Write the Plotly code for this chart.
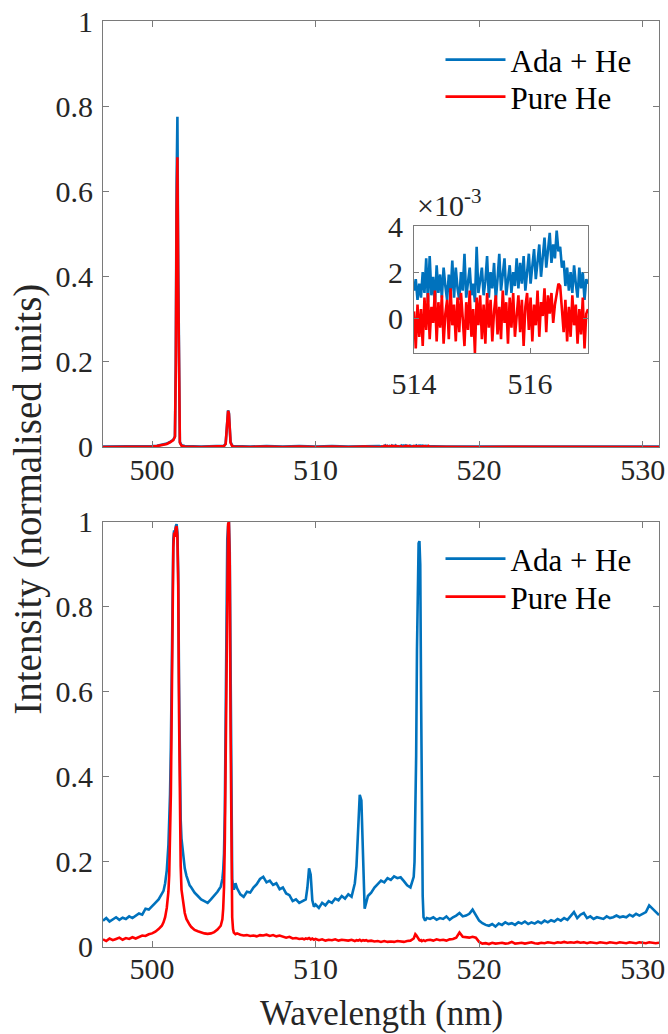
import plotly.graph_objects as go

# ---------------- data ----------------
# Top panel (outside the inset window)
top_wl_left = [497.0, 498.0, 499.0, 500.0, 500.3, 500.6, 500.9, 501.1, 501.3, 501.4,
               501.45, 501.5, 501.55, 501.6, 501.65, 501.7, 501.8, 502.0, 503.0, 504.0,
               504.4, 504.5, 504.55, 504.6, 504.65, 504.7, 504.75, 504.8, 504.9, 505.0,
               506.0, 507.0, 508.0, 509.0, 510.0, 511.0, 512.0, 513.0, 513.9]
top_ada_left = [0.001, 0.001, 0.001, 0.002, 0.003, 0.005, 0.008, 0.012, 0.017, 0.025,
                0.2, 0.62, 0.775, 0.42, 0.09, 0.012, 0.004, 0.002, 0.001, 0.002,
                0.003, 0.008, 0.03, 0.07, 0.086, 0.08, 0.045, 0.012, 0.003, 0.002,
                0.001, 0.002, 0.001, 0.002, 0.001, 0.002, 0.001, 0.002, 0.002]
top_he_left = [0.0, 0.0, 0.0, 0.001, 0.002, 0.004, 0.007, 0.011, 0.016, 0.024,
               0.18, 0.55, 0.68, 0.38, 0.08, 0.01, 0.003, 0.001, 0.0, 0.001,
               0.002, 0.007, 0.028, 0.068, 0.085, 0.078, 0.042, 0.01, 0.002, 0.001,
               0.0, 0.001, 0.0, 0.001, 0.0, 0.001, 0.0, 0.001, 0.0]
top_wl_right = [517.2, 518.0, 519.0, 520.0, 522.0, 524.0, 526.0, 528.0, 530.0, 531.0]
top_ada_right = [0.0015, 0.0012, 0.0016, 0.001, 0.001, 0.0012, 0.001, 0.0011, 0.001, 0.001]
top_he_right = [0.0003, 0.0002, 0.0004, 0.0, 0.0001, 0.0, 0.0002, 0.0, 0.0001, 0.0]

# Inset window 514-517 nm (values in units of 1e-3)
inset_wl = [514.00, 514.03, 514.06, 514.09, 514.12, 514.15, 514.18, 514.21, 514.24, 514.27,
            514.30, 514.33, 514.36, 514.39, 514.42, 514.45, 514.48, 514.51, 514.54, 514.57,
            514.60, 514.63, 514.66, 514.69, 514.72, 514.75, 514.78, 514.81, 514.84, 514.87,
            514.90, 514.93, 514.96, 514.99, 515.02, 515.05, 515.08, 515.11, 515.14, 515.17,
            515.20, 515.23, 515.26, 515.29, 515.32, 515.35, 515.38, 515.41, 515.44, 515.47,
            515.50, 515.53, 515.56, 515.59, 515.62, 515.65, 515.68, 515.71, 515.74, 515.77,
            515.80, 515.83, 515.86, 515.89, 515.92, 515.95, 515.98, 516.01, 516.04, 516.07,
            516.10, 516.13, 516.16, 516.19, 516.22, 516.25, 516.28, 516.31, 516.34, 516.37,
            516.40, 516.43, 516.46, 516.49, 516.52, 516.55, 516.58, 516.61, 516.64, 516.67,
            516.70, 516.73, 516.76, 516.79, 516.82, 516.85, 516.88, 516.91, 516.94, 516.97,
            517.00]
inset_ada_milli = [1.2, 1.7, 0.8, 1.5, 0.9, 2.0, 1.1, 2.6, 0.7, 2.7,
                   1.0, 1.8, 0.6, 2.3, 1.1, 1.9, 0.9, 2.2, 1.4, 0.8,
                   1.9, 1.0, 2.5, 0.9, 2.2, 1.3, 0.8, 2.0, 1.2, 2.8,
                   0.9, 1.6, 2.2, 1.0, 1.5, 0.7, 3.1, 1.1, 1.8, 2.2,
                   1.0, 1.6, 2.7, 0.9, 2.0, 1.3, 2.4, 0.8, 1.7, 2.8,
                   1.2, 1.9, 2.6, 1.0, 1.6, 2.3, 1.1, 2.0, 1.4, 2.6,
                   1.3, 2.4, 1.5, 2.7, 1.2, 2.0, 2.8, 1.5, 2.2, 3.0,
                   1.7, 2.4, 3.2, 1.8, 2.6, 3.5, 2.2, 2.9, 3.7, 2.4,
                   3.2, 2.6, 3.8, 2.9, 3.1, 2.2, 2.5, 1.4, 2.2, 1.2,
                   2.0, 1.1, 2.3, 1.5, 0.9, 2.2, 1.3, 2.0, 0.8, 1.7,
                   1.5]
inset_he_milli = [0.3, -1.3, 0.6, -0.8, 0.4, -1.2, 0.9, -0.5, 1.1, -0.9,
                  0.5, -0.2, 1.2, -1.0, 0.7, -0.4, 1.0, -1.1, 0.2, 0.8,
                  -0.9, 1.3, -0.3, 0.6, -1.0, 0.9, -0.6, 1.1, 0.0, -1.2,
                  0.7, -0.5, 1.2, -0.8, 0.4, -1.5, 0.9, -0.3, 1.0, -0.9,
                  0.6, -1.1, 1.1, -0.4, 0.8, -1.0, 0.3, 1.0, -0.7, 0.5,
                  -0.9, 1.2, -0.2, 0.7, -1.1, 0.9, -0.4, 1.1, -0.8, 0.3,
                  1.0, -0.6, 0.8, -1.2, 0.5, 1.1, -0.5, 0.9, -1.0, 0.6,
                  -0.3, 1.2, -0.8, 0.7, 0.1, 1.3, -0.6, 1.0, 0.2, 1.1,
                  -0.2, 0.6, 1.0, 1.5, 1.4, 0.4, -0.6, 0.8, -1.0, 0.5,
                  -0.8, 1.0, -0.3, 0.6, -1.1, 0.4, -0.7, 0.9, -1.3, 0.2,
                  0.4]

# Bottom panel
bottom_wl = [497.0, 497.2, 497.4, 497.6, 497.8, 498.0, 498.2, 498.4, 498.6, 498.8,
             499.0, 499.2, 499.4, 499.6, 499.8, 500.0, 500.2, 500.4, 500.6,
             500.7, 500.8, 500.9, 501.0, 501.05, 501.1, 501.15, 501.2, 501.25, 501.3,
             501.35, 501.4, 501.45, 501.5, 501.55, 501.6, 501.65, 501.7, 501.75, 501.8,
             501.9, 502.0, 502.1, 502.2, 502.3, 502.4, 502.5, 502.6,
             502.8, 503.0, 503.2, 503.4, 503.6, 503.8, 504.0, 504.2,
             504.3, 504.35, 504.4, 504.45, 504.5, 504.55, 504.6, 504.65, 504.7, 504.75,
             504.8, 504.85, 504.9, 504.95, 505.0, 505.1, 505.2,
             505.4, 505.6, 505.8, 506.0, 506.2, 506.4, 506.6, 506.8, 507.0, 507.2,
             507.4, 507.6, 507.8, 508.0, 508.2, 508.4, 508.6, 508.8, 509.0, 509.2,
             509.3, 509.4, 509.5, 509.6, 509.7, 509.8, 509.9, 510.0,
             510.2, 510.4, 510.6, 510.8, 511.0, 511.2, 511.4, 511.6, 511.8, 512.0, 512.2, 512.4,
             512.5, 512.6, 512.7, 512.8, 512.9, 513.0, 513.1, 513.2,
             513.4, 513.6, 513.8, 514.0, 514.2, 514.4, 514.6, 514.8, 515.0, 515.2,
             515.4, 515.6, 515.8, 516.0,
             516.05, 516.1, 516.15, 516.2, 516.25, 516.3, 516.35, 516.4, 516.45, 516.5,
             516.55, 516.6, 516.7, 516.8,
             517.0, 517.2, 517.4, 517.6, 517.8, 518.0, 518.2, 518.4, 518.6, 518.8,
             519.0, 519.2, 519.4, 519.6, 519.8, 520.0, 520.2, 520.4, 520.6, 520.8,
             521.0, 521.2, 521.4, 521.6, 521.8, 522.0, 522.2, 522.4, 522.6, 522.8,
             523.0, 523.2, 523.4, 523.6, 523.8, 524.0, 524.2, 524.4, 524.6, 524.8,
             525.0, 525.2, 525.4, 525.6, 525.8, 526.0, 526.2, 526.4, 526.6, 526.8,
             527.0, 527.2, 527.4, 527.6, 527.8, 528.0, 528.2, 528.4, 528.6, 528.8,
             529.0, 529.2, 529.4, 529.6, 529.8, 530.0, 530.2, 530.4, 530.6, 530.8,
             531.0]
bottom_ada = [0.062, 0.068, 0.060, 0.066, 0.070, 0.064, 0.069, 0.066, 0.072, 0.068,
              0.074, 0.079, 0.076, 0.090, 0.088, 0.097, 0.104, 0.112, 0.125,
              0.132, 0.150, 0.180, 0.240, 0.290, 0.360, 0.470, 0.640, 0.850, 0.960,
              0.980, 0.975, 0.990, 0.995, 0.975, 0.880, 0.620, 0.400, 0.300, 0.255,
              0.212, 0.185, 0.168, 0.155, 0.145, 0.140, 0.132, 0.128,
              0.120, 0.112, 0.108, 0.104, 0.112, 0.120, 0.130, 0.142,
              0.160, 0.180, 0.220, 0.320, 0.520, 0.800, 0.960, 0.990, 1.000, 0.930,
              0.600, 0.280, 0.160, 0.140, 0.135, 0.150, 0.138,
              0.124, 0.118, 0.130, 0.128, 0.140, 0.148, 0.160, 0.165, 0.152, 0.156,
              0.146, 0.150, 0.136, 0.140, 0.126, 0.122, 0.108, 0.112, 0.104, 0.108,
              0.110, 0.112, 0.140, 0.185, 0.170, 0.110, 0.095, 0.100,
              0.092, 0.104, 0.098, 0.108, 0.104, 0.114, 0.110, 0.120, 0.114, 0.124, 0.118, 0.150,
              0.190, 0.280, 0.358, 0.345, 0.200, 0.090, 0.105, 0.120,
              0.128, 0.140, 0.148, 0.156, 0.152, 0.162, 0.158, 0.166, 0.162, 0.164,
              0.155, 0.145, 0.140, 0.165,
              0.200, 0.300, 0.450, 0.700, 0.880, 0.950, 0.955, 0.900, 0.600, 0.300,
              0.120, 0.070, 0.062, 0.068,
              0.066, 0.070, 0.064, 0.068, 0.066, 0.072, 0.064, 0.070, 0.074, 0.080,
              0.072, 0.074, 0.078, 0.088, 0.075, 0.062, 0.056, 0.052, 0.050, 0.054,
              0.048, 0.055, 0.052, 0.058, 0.054, 0.056, 0.052, 0.058, 0.055, 0.060,
              0.054, 0.058, 0.055, 0.060, 0.056, 0.062, 0.058, 0.063, 0.060, 0.066,
              0.062, 0.068, 0.064, 0.074, 0.082, 0.068, 0.076, 0.080, 0.068, 0.072,
              0.066, 0.070, 0.068, 0.066, 0.072, 0.068, 0.070, 0.074, 0.070, 0.072,
              0.070, 0.076, 0.072, 0.078, 0.074, 0.078, 0.082, 0.098, 0.090, 0.082,
              0.075]
bottom_he = [0.018, 0.014, 0.020, 0.016, 0.019, 0.022, 0.017, 0.021, 0.019, 0.023,
             0.020, 0.024, 0.027, 0.026, 0.030, 0.032, 0.036, 0.042, 0.050,
             0.058, 0.070, 0.092, 0.130, 0.170, 0.240, 0.360, 0.550, 0.800, 0.940,
             0.975, 0.965, 0.985, 0.990, 0.965, 0.850, 0.550, 0.300, 0.190, 0.135,
             0.100, 0.080, 0.066, 0.058, 0.052, 0.047, 0.044, 0.040,
             0.037, 0.034, 0.032, 0.031, 0.032, 0.035, 0.041, 0.050,
             0.065, 0.090, 0.140, 0.250, 0.450, 0.750, 0.950, 0.995, 1.000, 0.900,
             0.520, 0.180, 0.070, 0.042, 0.034, 0.030, 0.032,
             0.029, 0.027, 0.028, 0.026, 0.027, 0.025, 0.028, 0.027, 0.029, 0.026,
             0.028, 0.025, 0.027, 0.024, 0.022, 0.024, 0.020, 0.021, 0.019, 0.020,
             0.018, 0.020, 0.019, 0.021, 0.018, 0.020, 0.017, 0.019,
             0.016, 0.018, 0.015, 0.017, 0.016, 0.018, 0.015, 0.017, 0.016, 0.015, 0.017, 0.014,
             0.016, 0.015, 0.017, 0.014, 0.016, 0.015, 0.016, 0.014,
             0.015, 0.013, 0.014, 0.012, 0.014, 0.012, 0.013, 0.012, 0.014, 0.013,
             0.012, 0.014, 0.015, 0.020,
             0.026, 0.030, 0.028, 0.024, 0.020, 0.018, 0.016, 0.015, 0.016, 0.014,
             0.015, 0.016, 0.014, 0.016,
             0.017, 0.015, 0.018, 0.016, 0.017, 0.015, 0.018, 0.019, 0.022, 0.034,
             0.024, 0.023, 0.022, 0.024, 0.022, 0.012, 0.008, 0.009, 0.007, 0.010,
             0.008, 0.009, 0.010, 0.008, 0.009, 0.012, 0.008, 0.009, 0.010, 0.008,
             0.009, 0.011, 0.009, 0.008, 0.010, 0.009, 0.011, 0.010, 0.009, 0.011,
             0.010, 0.012, 0.010, 0.011, 0.010, 0.012, 0.010, 0.011, 0.009, 0.011,
             0.010, 0.009, 0.011, 0.010, 0.009, 0.011, 0.010, 0.009, 0.011, 0.010,
             0.009, 0.011, 0.010, 0.009, 0.011, 0.010, 0.009, 0.011, 0.010, 0.009,
             0.010]

assert len(bottom_wl) == len(bottom_ada) == len(bottom_he)
assert len(inset_wl) == len(inset_ada_milli) == len(inset_he_milli)
assert len(top_wl_left) == len(top_ada_left) == len(top_he_left)

series_names = ["Ada + He", "Pure He"]
x_ticks = [500, 510, 520, 530]
y_ticks = [0, 0.2, 0.4, 0.6, 0.8, 1]
y_ticktext = ["0", "0.2", "0.4", "0.6", "0.8", "1"]
inset_x_ticks = [514, 516]
inset_y_ticks = [0, 0.002, 0.004]
inset_y_ticktext = ["0", "2", "4"]

# ---------------- build ----------------
BLUE = "#0072BD"
RED = "#FF0000"
FONT = "Liberation Serif"
TXT = "#262626"
AX = "#7a7a7a"

inset_ada = [v * 1e-3 for v in inset_ada_milli]
inset_he = [v * 1e-3 for v in inset_he_milli]
top_wl = top_wl_left + inset_wl + top_wl_right
top_ada = top_ada_left + inset_ada + top_ada_right
top_he = top_he_left + inset_he + top_he_right

fig = go.Figure()
lw = 2.6
# top panel
fig.add_trace(go.Scatter(x=top_wl, y=top_ada, mode="lines", name=series_names[0],
                         line=dict(color=BLUE, width=lw), xaxis="x", yaxis="y", legend="legend"))
fig.add_trace(go.Scatter(x=top_wl, y=top_he, mode="lines", name=series_names[1],
                         line=dict(color=RED, width=lw), xaxis="x", yaxis="y", legend="legend2"))
# inset
fig.add_trace(go.Scatter(x=inset_wl, y=inset_ada, mode="lines", showlegend=False,
                         line=dict(color=BLUE, width=lw), xaxis="x3", yaxis="y3"))
fig.add_trace(go.Scatter(x=inset_wl, y=inset_he, mode="lines", showlegend=False,
                         line=dict(color=RED, width=lw), xaxis="x3", yaxis="y3"))
# bottom panel
fig.add_trace(go.Scatter(x=bottom_wl, y=bottom_ada, mode="lines", name=series_names[0],
                         line=dict(color=BLUE, width=lw), xaxis="x2", yaxis="y2", legend="legend3"))
fig.add_trace(go.Scatter(x=bottom_wl, y=bottom_he, mode="lines", name=series_names[1],
                         line=dict(color=RED, width=lw), xaxis="x2", yaxis="y2", legend="legend4"))

tickfont = dict(family=FONT, size=30, color=TXT)
axis_base = dict(ticks="inside", tickcolor=AX, showline=True, linecolor=AX, linewidth=1,
                 mirror="all", showgrid=False, zeroline=False, tickfont=tickfont,
                 automargin=False, ticklabeloverflow="allow")
common_x = dict(range=[497, 531], tickvals=x_ticks, ticklen=6, **axis_base)
common_y = dict(range=[0, 1], tickvals=y_ticks, ticktext=y_ticktext, ticklen=6,
                ticklabelstandoff=3, **axis_base)

legend_common = dict(font=dict(family=FONT, size=31, color="#000"), bgcolor="rgba(0,0,0,0)",
                     borderwidth=0, xanchor="left", yanchor="middle", itemwidth=60,
                     tracegroupgap=0, itemclick=False, itemdoubleclick=False)
LEG_X = 0.607

fig.update_layout(
    width=668, height=1034,
    margin=dict(l=103, r=9, t=21, b=87, autoexpand=False),
    paper_bgcolor="white", plot_bgcolor="white",
    hovermode=False,
    xaxis=dict(domain=[0, 1], anchor="y", ticklabelstandoff=-4, **common_x),
    yaxis=dict(domain=[0.540, 1.0], anchor="x", **common_y),
    xaxis2=dict(domain=[0, 1], anchor="y2", ticklabelstandoff=-5, **common_x),
    yaxis2=dict(domain=[0, 0.459], anchor="x2", **common_y),
    xaxis3=dict(domain=[0.5594, 0.8723], anchor="y3", range=[514, 517], tickvals=inset_x_ticks,
                ticklen=5, ticklabelstandoff=4, **axis_base),
    yaxis3=dict(domain=[0.6415, 0.7786], anchor="x3", range=[-0.0015, 0.004],
                tickvals=inset_y_ticks, ticktext=inset_y_ticktext, ticklen=5,
                ticklabelstandoff=4, **axis_base),
    legend=dict(x=LEG_X, y=0.9579, **legend_common),
    legend2=dict(x=LEG_X, y=0.9179, **legend_common),
    legend3=dict(x=LEG_X, y=0.4190, **legend_common),
    legend4=dict(x=LEG_X, y=0.3780, **legend_common),
    showlegend=True,
    annotations=[
        dict(text="Intensity (normalised units)", textangle=-90, xref="paper", yref="paper",
             x=-0.135, y=0.484, xanchor="center", yanchor="middle", showarrow=False,
             font=dict(family=FONT, size=39, color=TXT)),
        dict(text="Wavelength (nm)", xref="paper", yref="paper", x=0.5, y=-0.0713,
             xanchor="center", yanchor="middle", showarrow=False,
             font=dict(family=FONT, size=35, color=TXT)),
        dict(text="×10<sup>-3</sup>", xref="paper", yref="paper", x=0.562, y=0.781,
             xanchor="left", yanchor="bottom", showarrow=False,
             font=dict(family=FONT, size=30, color=TXT)),
    ],
)

# remove the default 8px page margin so the figure fills the window exactly
fig.write_html("out.html",
               config={"displayModeBar": False, "staticPlot": True},
               post_script="document.body.style.margin='0';"
                           "document.documentElement.style.overflow='hidden';")
